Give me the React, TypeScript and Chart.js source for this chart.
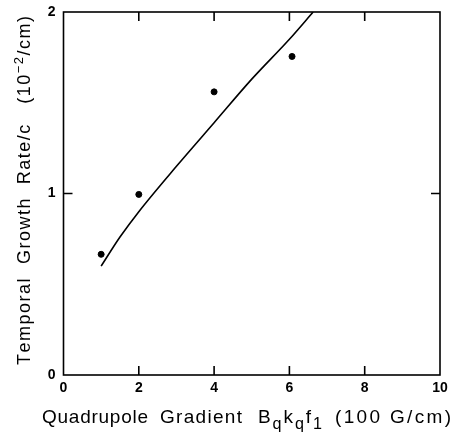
import React, { useEffect, useRef } from "react";
import { Chart, registerables } from "chart.js";

Chart.register(...registerables);

const measuredX: number[] = [1, 2, 4, 6.07];
const measuredY: number[] = [0.665, 0.995, 1.56, 1.755];
const theoryX: number[] = [1, 1.5, 2, 3, 4, 5, 6, 6.63];
const theoryY: number[] = [0.6, 0.76, 0.9, 1.15, 1.39, 1.63, 1.85, 2.0];
const xTicks: number[] = [0, 2, 4, 6, 8, 10];
const yTicks: number[] = [0, 1, 2];

const FONT = "'Liberation Sans', Arial, sans-serif";

type Seg = { t: string; kind?: "sub" | "sup" };
type Group = { segs: Seg[]; at: number; width: number };
const xTitle: Group[] = [
  { segs: [{ t: "Quadrupole" }], at: 42, width: 106 },
  { segs: [{ t: "Gradient" }], at: 160, width: 82 },
  {
    segs: [
      { t: "B" },
      { t: "q", kind: "sub" },
      { t: "k" },
      { t: "q", kind: "sub" },
      { t: "f" },
      { t: "1", kind: "sub" },
    ],
    at: 258,
    width: 64,
  },
  { segs: [{ t: "(100 G/cm)" }], at: 335, width: 116 },
];
const yTitle: Group[] = [
  {
    segs: [
      { t: "Temporal  Growth  Rate/c   (10" },
      { t: "\u22122", kind: "sup" },
      { t: "/cm)" },
    ],
    at: 0,
    width: 347,
  },
];

const subScale = (kind?: string) => (kind === "sub" ? 0.85 : kind === "sup" ? 0.72 : 1);

function segWidth(ctx: CanvasRenderingContext2D, segs: Seg[], size: number) {
  let w = 0;
  let n = 0;
  for (const s of segs) {
    ctx.font = `${size * subScale(s.kind)}px ${FONT}`;
    w += ctx.measureText(s.t).width;
    n += s.t.length;
  }
  return { w, n };
}

function drawGroups(ctx: CanvasRenderingContext2D, groups: Group[], y: number, size: number) {
  (ctx as any).letterSpacing = "0px";
  for (const g of groups) {
    const { w, n } = segWidth(ctx, g.segs, size);
    const sp = n > 1 ? (g.width - w) / (n - 1) : 0;
    let cx = g.at;
    for (const s of g.segs) {
      ctx.font = `${size * subScale(s.kind)}px ${FONT}`;
      const dy = s.kind === "sub" ? size * 0.3 : s.kind === "sup" ? -size * 0.4 : 0;
      for (const ch of s.t) {
        ctx.fillText(ch, cx, y + dy);
        cx += ctx.measureText(ch).width + sp;
      }
    }
  }
}

const framePlugin = {
  id: "frame",
  afterDraw(chart: any) {
    const ctx: CanvasRenderingContext2D = chart.ctx;
    const { left, right, top, bottom } = chart.chartArea;
    const xs = chart.scales.x;
    const ys = chart.scales.y;
    ctx.save();
    ctx.strokeStyle = "#000";
    ctx.lineWidth = 1.6;
    ctx.strokeRect(left, top, right - left, bottom - top);
    const tl = 9;
    ctx.beginPath();
    for (const v of xTicks) {
      const px = xs.getPixelForValue(v);
      if (Math.abs(px - left) < 2 || Math.abs(px - right) < 2) continue;
      ctx.moveTo(px, bottom);
      ctx.lineTo(px, bottom - tl);
      ctx.moveTo(px, top);
      ctx.lineTo(px, top + tl);
    }
    for (const v of yTicks) {
      const py = ys.getPixelForValue(v);
      if (Math.abs(py - top) < 2 || Math.abs(py - bottom) < 2) continue;
      ctx.moveTo(left, py);
      ctx.lineTo(left + tl, py);
      ctx.moveTo(right, py);
      ctx.lineTo(right - tl, py);
    }
    ctx.stroke();

    ctx.fillStyle = "#000";
    ctx.font = `bold 14px ${FONT}`;
    ctx.textBaseline = "middle";
    ctx.textAlign = "center";
    for (const v of xTicks) {
      ctx.fillText(String(v), xs.getPixelForValue(v), bottom + 13);
    }
    ctx.textAlign = "right";
    for (const v of yTicks) {
      ctx.fillText(String(v), left - 8, ys.getPixelForValue(v));
    }

    ctx.textBaseline = "alphabetic";
    ctx.textAlign = "left";
    drawGroups(ctx, xTitle, 423, 19);

    ctx.translate(30, 365);
    ctx.rotate(-Math.PI / 2);
    drawGroups(ctx, yTitle, 0, 18);
    ctx.restore();
  },
};

export default function App() {
  const ref = useRef<HTMLCanvasElement>(null);
  useEffect(() => {
    document.body.style.margin = "0";
    const chart = new Chart(ref.current!, {
      type: "scatter",
      data: {
        datasets: [
          {
            label: "measured",
            data: measuredX.map((x, i) => ({ x, y: measuredY[i] })),
            pointRadius: 3,
            pointBackgroundColor: "#000",
            pointBorderColor: "#000",
            showLine: false,
          },
          {
            label: "theory",
            data: theoryX.map((x, i) => ({ x, y: theoryY[i] })),
            pointRadius: 0,
            showLine: true,
            borderColor: "#000",
            borderWidth: 1.6,
            tension: 0.3,
            cubicInterpolationMode: "monotone",
          } as any,
        ],
      },
      options: {
        animation: false,
        responsive: false,
        layout: { padding: { left: 0, right: 12, top: 12, bottom: 0 } },
        plugins: { legend: { display: false }, tooltip: { enabled: false } },
        scales: {
          x: {
            type: "linear",
            min: 0,
            max: 10,
            afterBuildTicks: (s: any) => {
              s.ticks = xTicks.map((v) => ({ value: v }));
            },
            afterFit: (s: any) => {
              s.height = 60;
            },
            grid: { display: false, drawTicks: false },
            border: { display: false },
            ticks: { display: false },
          },
          y: {
            type: "linear",
            min: 0,
            max: 2,
            afterBuildTicks: (s: any) => {
              s.ticks = yTicks.map((v) => ({ value: v }));
            },
            afterFit: (s: any) => {
              s.width = 63.5;
            },
            grid: { display: false, drawTicks: false },
            border: { display: false },
            ticks: { display: false },
          },
        },
      },
      plugins: [framePlugin],
    });
    return () => chart.destroy();
  }, []);
  return (
    <div style={{ position: "fixed", left: 0, top: 0, width: 452, height: 435, background: "#fff" }}>
      <canvas ref={ref} width={452} height={435} />
    </div>
  );
}
